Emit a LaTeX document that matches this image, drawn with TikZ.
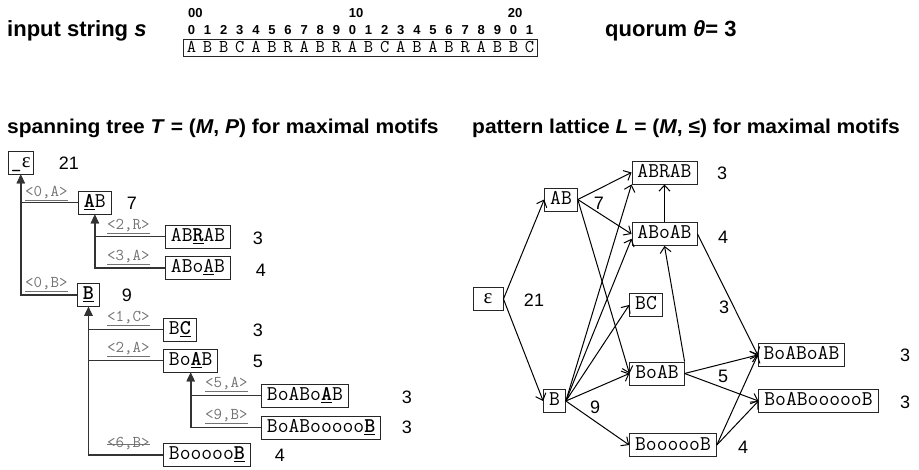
\documentclass[tikz,border=0pt]{standalone}
\usepackage{fontspec}
\setmainfont{Liberation Sans}
\newfontfamily\titlefont[FakeStretch=1.05]{Liberation Sans}
\newfontfamily\grk{Liberation Serif}
\usetikzlibrary{arrows.meta,calc}
\newcommand\ubf[1]{\underline{\textbf{#1}}}
\newcommand\epsm{{\grk ε}}
\begin{document}
\begin{tikzpicture}[x=1pt,y=-1pt,
  boxbase/.style={draw=black!85, line width=0.9pt, font=\ttfamily\fontsize{21}{21}\selectfont,
     inner xsep=5.5pt, inner ysep=0pt, minimum height=23pt, text height=13pt, text depth=3pt},
  tbox/.style={boxbase, anchor=west},
  lbox/.style={boxbase},
  num/.style={font=\fontsize{18}{18}\selectfont, inner sep=0pt},
  elab/.style={font=\ttfamily\fontsize{16.5}{16.5}\selectfont, text=black!55, inner sep=0pt, anchor=base west},
  tedge/.style={draw=black!80, line width=1.7pt, -{Triangle[length=9pt,width=8pt]}},
  ledge/.style={draw=black, line width=1pt, -{Straight Barb[length=6pt,width=11pt]}},
  title/.style={font=\titlefont\bfseries\fontsize{20}{20}\selectfont, inner sep=0pt, anchor=base west},
  digit/.style={font=\bfseries\fontsize{13}{13}\selectfont, inner sep=0pt, anchor=base},
  sletter/.style={font=\ttfamily\fontsize{18}{18}\selectfont, inner sep=0pt, anchor=base}
]
\useasboundingbox (0,0) rectangle (919,470);

% ---------- top ----------
\node[font=\bfseries\fontsize{22}{22}\selectfont, inner sep=0pt, anchor=base west] (inp) at (7,37) {input string \textit{s}};
\node[font=\bfseries\fontsize{22}{22}\selectfont, inner sep=0pt, anchor=base west] (quo) at (605,37) {quorum \textit{θ}= 3};
\node[digit, anchor=base west] (d00) at (188,18) {00};
\node[digit] (d10) at (356,18) {10};
\node[digit] (d20) at (515,18) {20};
\foreach \i in {0,...,21}{
  \pgfmathtruncatemacro\dd{mod(\i,10)}
  \node[digit] (dg\i) at (191.5+16.1*\i,35) {\dd};
}
\node[draw=black!85, line width=0.9pt, minimum width=354pt, minimum height=17pt, inner sep=0pt, anchor=north west] (sbox) at (183,39) {};
\foreach \c [count=\k from 0] in {A,B,B,C,A,B,R,A,B,R,A,B,C,A,B,A,B,R,A,B,B,C}{
  \node[sletter] (sl\k) at (191.5+16.1*\k,53) {\c};
}

% ---------- titles ----------
\node[title] (t1) at (7,134) {spanning tree \textit{T} = (\textit{M}, \textit{P}) for maximal motifs};
\node[title] (t2) at (472,134) {pattern lattice \textit{L} = (\textit{M}, ≤) for maximal motifs};

% ---------- spanning tree ----------
\node[tbox, inner xsep=2.5pt] (teps) at (8,162.5) {\_\epsm};
\node[tbox] (tAB) at (78,202.5) {\ubf{A}B};
\node[tbox] (tABRAB) at (165,236.5) {AB\ubf{R}AB};
\node[tbox] (tABoAB) at (165,268) {ABo\underline{A}B};
\node[tbox] (tB) at (77,295) {\ubf{B}};
\node[tbox] (tBC) at (163,329.5) {B\ubf{C}};
\node[tbox] (tBoAB) at (163,360.5) {Bo\ubf{A}B};
\node[tbox] (tBoABoAB) at (261,395.5) {BoABo\ubf{A}B};
\node[tbox] (tBoABfB) at (261,427.5) {BoABooooo\ubf{B}};
\node[tbox] (tBfB) at (163,455) {Booooo\ubf{B}};

\node[num] (n21) at (69,163) {21};
\node[num] (n7) at (132,203) {7};
\node[num] (nABRAB) at (258,238) {3};
\node[num] (nABoAB) at (261,270) {4};
\node[num] (n9) at (127,295) {9};
\node[num] (nBC) at (258,330) {3};
\node[num] (nBoAB) at (258,361) {5};
\node[num] (nBoABoAB) at (407,397) {3};
\node[num] (nBoABfB) at (407,427) {3};
\node[num] (nBfB) at (280,455) {4};

\draw[tedge] (tAB.west) -| (teps.south);
\draw[tedge] (tB.west) -| (teps.south);
\draw[tedge] (tABRAB.west) -| (tAB.south);
\draw[tedge] (tABoAB.west) -| (tAB.south);
\draw[tedge] (tBC.west) -| (tB.south);
\draw[tedge] (tBoAB.west) -| (tB.south);
\draw[tedge] (tBfB.west) -| (tB.south);
\draw[tedge] (tBoABoAB.west) -| (tBoAB.south);
\draw[tedge] (tBoABfB.west) -| (tBoAB.south);

\node[elab] (e1) at (25,196.5) {\underline{<0,A>}};
\node[elab] (e2) at (25,287.5) {\underline{<0,B>}};
\node[elab] (e3) at (107,229.5) {\underline{<2,R>}};
\node[elab] (e4) at (107,260.5) {\underline{<3,A>}};
\node[elab] (e5) at (107,322) {\underline{<1,C>}};
\node[elab] (e6) at (107,353) {\underline{<2,A>}};
\node[elab] (e7) at (107,447.5) {<6,B>};
\draw[black!55, line width=0.8pt] ($(e7.west)+(0,0.5)$) -- ($(e7.east)+(0,0.5)$);
\node[elab] (e8) at (205,388) {\underline{<5,A>}};
\node[elab] (e9) at (205,420) {\underline{<9,B>}};

% ---------- pattern lattice ----------
\node[lbox, minimum width=30pt] (leps) at (488,299) {\epsm};
\node[lbox] (lAB) at (561,199.5) {AB};
\node[lbox] (lABRAB) at (664.5,172.5) {ABRAB};
\node[lbox] (lABoAB) at (664.5,234) {ABoAB};
\node[lbox] (lBC) at (646,305) {BC};
\node[lbox] (lB) at (554.5,401) {B};
\node[lbox] (lBoAB) at (657,373.5) {BoAB};
\node[lbox] (lBfB) at (673,445) {BoooooB};
\node[lbox] (lBoABoAB) at (801.5,355) {BoABoAB};
\node[lbox] (lBoABfB) at (818.5,401) {BoABoooooB};

\node[num] (m21) at (534,300) {21};
\node[num] (m7) at (599,203) {7};
\node[num] (mABRAB) at (722,173) {3};
\node[num] (mABoAB) at (723,237) {4};
\node[num] (mBC) at (724,307) {3};
\node[num] (m9) at (595,407) {9};
\node[num] (mBoAB) at (723,376) {5};
\node[num] (mBfB) at (743,447) {4};
\node[num] (mBoABoAB) at (905,355) {3};
\node[num] (mBoABfB) at (905,402) {3};

\draw[ledge] (leps.east) -- (lAB.west);
\draw[ledge] (leps.east) -- (lB.west);
\draw[ledge] (lAB.east) -- (lABRAB.west);
\draw[ledge] (lAB.east) -- (lABoAB.west);
\draw[ledge] (lAB.east) -- (lBoAB.west);
\draw[ledge] (lB.east) -- (lABRAB.south west);
\draw[ledge] (lB.east) -- ($(lABoAB.west)!0.4!(lABoAB.south west)$);
\draw[ledge] (lB.east) -- (lBC.west);
\draw[ledge] (lB.east) -- (lBoAB.west);
\draw[ledge] (lB.east) -- (lBfB.west);
\draw[ledge] (lABoAB.north) -- (lABRAB.south);
\draw[ledge] (lBoAB.north east) -- (lABoAB.south);
\draw[ledge] (lABoAB.east) -- (lBoABoAB.west);
\draw[ledge] (lBoAB.east) -- (lBoABoAB.west);
\draw[ledge] (lBoAB.east) -- (lBoABfB.west);
\draw[ledge] (lBfB.east) -- (lBoABoAB.west);
\draw[ledge] (lBfB.east) -- (lBoABfB.west);
\end{tikzpicture}
\end{document}
